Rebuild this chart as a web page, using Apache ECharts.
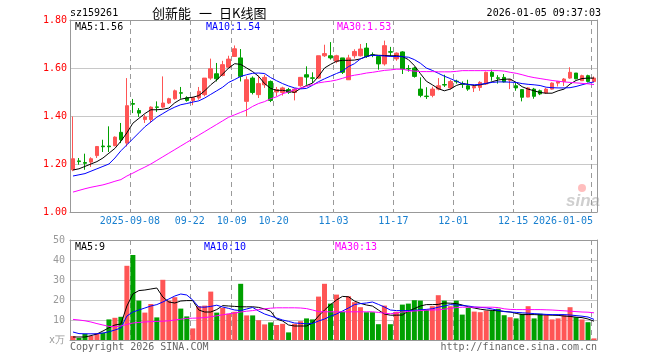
<!DOCTYPE html>
<html><head><meta charset="utf-8">
<script src="https://cdn.jsdelivr.net/npm/echarts@6/dist/echarts.min.js"></script>
<style>html,body{margin:0;padding:0;background:#fff}#c{width:660px;height:360px}</style>
</head><body><div id="c"></div>
<script>
const dates = [
'2025-08-25','2025-08-26','2025-08-27','2025-08-28','2025-08-29',
'2025-09-01','2025-09-02','2025-09-03','2025-09-04','2025-09-05',
'2025-09-08','2025-09-09','2025-09-10','2025-09-11','2025-09-12',
'2025-09-15','2025-09-16','2025-09-17','2025-09-18','2025-09-19',
'2025-09-22','2025-09-23','2025-09-24','2025-09-25','2025-09-26',
'2025-09-29','2025-09-30','2025-10-09','2025-10-10',
'2025-10-13','2025-10-14','2025-10-15','2025-10-16','2025-10-17',
'2025-10-20','2025-10-21','2025-10-22','2025-10-23','2025-10-24',
'2025-10-27','2025-10-28','2025-10-29','2025-10-30','2025-10-31',
'2025-11-03','2025-11-04','2025-11-05','2025-11-06','2025-11-07',
'2025-11-10','2025-11-11','2025-11-12','2025-11-13','2025-11-14',
'2025-11-17','2025-11-18','2025-11-19','2025-11-20','2025-11-21',
'2025-11-24','2025-11-25','2025-11-26','2025-11-27','2025-11-28',
'2025-12-01','2025-12-02','2025-12-03','2025-12-04','2025-12-05',
'2025-12-08','2025-12-09','2025-12-10','2025-12-11','2025-12-12',
'2025-12-15','2025-12-16','2025-12-17','2025-12-18','2025-12-19',
'2025-12-22','2025-12-23','2025-12-24','2025-12-25','2025-12-26',
'2025-12-29','2025-12-30','2025-12-31','2026-01-05'];

const opens = [1.176,1.213,1.206,1.208,1.235,1.275,1.275,1.276,1.332,1.287,
1.452,1.423,1.385,1.385,1.438,1.437,1.454,1.472,1.497,1.476,
1.465,1.475,1.489,1.558,1.576,1.569,1.603,1.648,1.642,1.461,
1.558,1.489,1.530,1.544,1.500,1.498,1.510,1.498,1.526,1.572,
1.559,1.558,1.651,1.651,1.628,1.642,1.551,1.651,1.651,1.683,
1.655,1.648,1.617,1.668,1.638,1.667,1.598,1.600,1.512,1.483,
1.486,1.512,1.531,1.517,1.545,1.534,1.526,1.517,1.519,1.533,
1.582,1.559,1.561,1.549,1.526,1.510,1.479,1.512,1.505,1.496,
1.512,1.537,1.544,1.558,1.579,1.547,1.568,1.544];
const closes = [1.222,1.210,1.203,1.222,1.273,1.272,1.272,1.312,1.301,1.443,
1.449,1.412,1.396,1.437,1.436,1.454,1.472,1.505,1.495,1.465,
1.476,1.503,1.558,1.597,1.555,1.614,1.637,1.680,1.565,1.551,
1.498,1.535,1.561,1.465,1.510,1.517,1.498,1.512,1.561,1.562,
1.557,1.651,1.660,1.642,1.651,1.582,1.642,1.669,1.679,1.648,
1.653,1.617,1.693,1.666,1.662,1.596,1.596,1.565,1.486,1.481,
1.512,1.526,1.529,1.544,1.543,1.532,1.512,1.523,1.540,1.582,
1.565,1.557,1.542,1.551,1.517,1.478,1.517,1.482,1.492,1.512,
1.537,1.544,1.554,1.582,1.555,1.568,1.544,1.558];
const lows = [1.170,1.197,1.176,1.188,1.225,1.250,1.250,1.274,1.287,1.273,
1.412,1.396,1.371,1.372,1.417,1.433,1.450,1.468,1.472,1.460,
1.445,1.468,1.482,1.551,1.544,1.565,1.600,1.646,1.544,1.398,
1.490,1.475,1.517,1.458,1.482,1.485,1.492,1.465,1.522,1.530,
1.537,1.555,1.646,1.635,1.620,1.575,1.551,1.640,1.648,1.642,
1.645,1.593,1.610,1.648,1.630,1.575,1.585,1.560,1.478,1.471,
1.478,1.507,1.521,1.510,1.535,1.517,1.505,1.500,1.505,1.530,
1.547,1.535,1.540,1.512,1.505,1.461,1.478,1.472,1.487,1.492,
1.510,1.523,1.525,1.555,1.553,1.546,1.540,1.542];
const highs = [1.398,1.225,1.243,1.228,1.275,1.301,1.357,1.315,1.371,1.558,
1.471,1.433,1.405,1.440,1.461,1.565,1.476,1.510,1.521,1.482,
1.480,1.521,1.558,1.639,1.621,1.630,1.651,1.694,1.679,1.565,
1.565,1.568,1.572,1.548,1.521,1.522,1.517,1.515,1.561,1.607,
1.582,1.651,1.697,1.708,1.655,1.642,1.655,1.678,1.700,1.704,
1.665,1.650,1.714,1.688,1.665,1.670,1.612,1.605,1.561,1.520,
1.522,1.558,1.572,1.551,1.551,1.544,1.551,1.530,1.545,1.585,
1.593,1.570,1.575,1.553,1.537,1.512,1.520,1.517,1.510,1.517,
1.540,1.546,1.558,1.603,1.579,1.572,1.572,1.565];

const ma5 = [1.175,1.180,1.190,1.200,1.210,1.225,1.245,1.265,1.295,1.330,
1.370,1.390,1.410,1.426,1.426,1.428,1.433,1.455,1.470,1.475,
1.478,1.485,1.505,1.530,1.550,1.575,1.600,1.618,1.615,1.600,
1.585,1.565,1.535,1.515,1.507,1.507,1.503,1.498,1.515,1.527,
1.537,1.565,1.600,1.615,1.628,1.632,1.632,1.633,1.638,1.648,
1.655,1.653,1.652,1.651,1.651,1.648,1.635,1.610,1.577,1.545,
1.530,1.514,1.505,1.512,1.527,1.535,1.532,1.527,1.530,1.535,
1.543,1.550,1.553,1.554,1.540,1.522,1.512,1.505,1.498,1.495,
1.495,1.505,1.512,1.533,1.548,1.556,1.558,1.558];
const ma10 = [1.150,1.155,1.160,1.170,1.180,1.190,1.200,1.225,1.255,1.280,
1.305,1.330,1.355,1.375,1.395,1.410,1.425,1.437,1.447,1.452,
1.458,1.463,1.475,1.490,1.505,1.520,1.540,1.552,1.565,1.572,
1.578,1.579,1.577,1.560,1.547,1.535,1.525,1.517,1.513,1.515,
1.528,1.543,1.555,1.566,1.577,1.587,1.606,1.618,1.638,1.648,
1.653,1.652,1.650,1.648,1.648,1.647,1.645,1.635,1.620,1.600,
1.590,1.578,1.566,1.556,1.545,1.535,1.531,1.530,1.532,1.536,
1.540,1.542,1.542,1.541,1.540,1.535,1.532,1.530,1.527,1.520,
1.518,1.517,1.517,1.518,1.523,1.530,1.537,1.542];
const ma30 = [1.083,1.090,1.097,1.103,1.108,1.113,1.120,1.128,1.135,1.150,
1.162,1.175,1.187,1.200,1.215,1.230,1.245,1.260,1.275,1.290,
1.305,1.320,1.335,1.350,1.365,1.380,1.395,1.405,1.415,1.425,
1.440,1.452,1.460,1.472,1.480,1.493,1.500,1.510,1.517,1.523,
1.530,1.538,1.542,1.545,1.550,1.557,1.565,1.570,1.574,1.579,
1.582,1.586,1.590,1.592,1.595,1.595,1.590,1.587,1.585,1.585,
1.585,1.584,1.584,1.584,1.586,1.589,1.589,1.589,1.589,1.589,
1.589,1.589,1.587,1.582,1.578,1.572,1.565,1.560,1.556,1.552,
1.548,1.545,1.542,1.540,1.538,1.536,1.534,1.531];

const volumes = [2.0,1.0,3.1,2.0,3.3,3.6,10.3,11.1,11.6,37.1,
42.5,19.7,13.7,18.0,11.3,30.1,19.7,21.4,15.7,11.8,
5.8,16.9,17.2,24.2,13.7,16.1,13.1,14.1,28.1,12.3,
12.3,9.9,7.8,8.8,7.5,8.1,3.8,8.1,9.4,10.8,
10.3,21.7,28.1,18.2,22.7,14.1,21.9,18.9,16.4,13.9,
13.9,7.9,17.2,7.9,14.1,17.7,18.2,19.9,19.7,15.2,
16.9,22.4,19.7,16.9,19.7,12.7,16.1,14.2,13.9,14.7,
14.7,15.6,12.4,11.4,10.8,13.1,16.9,10.8,13.1,12.4,
10.3,10.8,12.4,16.4,11.4,10.3,8.9,0.8];
const vma5 = [1.5,1.5,1.5,2.2,3.0,4.5,6.1,7.5,8.0,17.0,
23.0,24.7,25.0,25.5,26.0,21.5,19.0,18.5,19.5,19.7,
19.7,15.0,14.0,14.0,15.2,17.2,17.0,16.8,16.6,16.6,
16.6,16.3,15.5,14.4,10.5,9.5,7.5,7.0,7.0,7.0,
8.5,12.0,15.0,17.7,20.0,21.8,21.6,19.5,18.3,17.5,
17.0,15.0,13.0,12.4,12.4,12.5,14.5,15.7,17.0,17.7,
17.7,17.8,18.5,18.4,18.2,17.5,16.6,16.0,15.4,15.0,
14.8,14.6,14.3,14.0,13.3,12.7,12.7,12.7,12.6,12.5,
12.4,12.3,12.0,11.8,11.4,11.2,10.5,9.4];
const vma10 = [4.0,3.2,3.1,3.1,3.1,3.5,4.1,5.0,6.0,12.0,
14.0,15.0,16.0,17.0,17.7,19.0,20.5,22.0,23.0,22.5,
20.0,16.5,16.4,16.8,17.4,16.5,15.8,15.0,14.7,15.5,
16.3,14.5,13.0,12.0,11.0,10.0,9.3,8.5,8.3,8.1,
8.3,9.5,10.5,11.9,13.0,14.5,16.0,17.7,18.2,18.5,
19.0,17.8,16.5,15.0,14.7,14.7,14.7,14.8,15.1,15.3,
15.6,16.4,17.0,17.7,17.5,17.2,17.0,16.5,16.3,16.1,
15.5,14.8,14.2,14.0,13.8,13.6,13.4,13.2,13.0,12.8,
12.7,12.7,12.7,12.5,12.2,11.9,11.5,10.3];
const vma30 = [10.3,10.0,9.6,9.0,8.2,7.5,6.8,6.6,7.0,7.8,
8.5,8.8,9.0,9.2,9.3,9.4,9.6,10.0,10.4,10.8,
10.9,11.0,11.2,11.6,12.1,12.6,13.1,13.5,14.0,14.4,
14.7,15.2,15.6,15.9,16.1,16.1,16.1,16.1,16.0,15.7,
15.0,14.2,14.1,14.1,14.1,14.1,14.1,14.1,14.1,14.1,
14.1,13.8,13.4,13.1,13.5,14.0,14.3,14.5,14.7,14.9,
15.0,15.1,15.4,15.8,16.2,16.4,16.4,16.4,16.4,16.4,
16.4,16.2,15.6,15.3,15.2,15.2,15.2,15.2,15.2,15.1,
15.0,14.8,14.6,14.4,14.2,14.0,13.9,13.6];

const priceMin = 1.0, priceMax = 1.8, priceStep = 0.2;
const volMin = 0, volMax = 50, volStep = 10;
const markIdx = [10,20,27,34,44,54,64,74,87];
const fullLabelIdx = [10,87];
const code = 'sz159261';
const nameParts = ['创新能','一','日K线图'];
const stamp = '2026-01-05 09:37:03';
const priceLegend = ['MA5:1.56','MA10:1.54','MA30:1.53'];
const volLegend = ['MA5:9','MA10:10','MA30:13'];
const copyright = 'Copyright 2026 SINA.COM';
const siteUrl = 'http://finance.sina.com.cn';

const UP = '#ff5555', DOWN = '#00a000';
const MONO = '"DejaVu Sans Mono", "Liberation Mono", monospace';

const candle = dates.map((d,i)=>[opens[i],closes[i],lows[i],highs[i]]);
const volData = volumes.map((v,i)=>({value:v,itemStyle:{color: closes[i]>=opens[i]?UP:DOWN}}));
const isMark = (i)=>markIdx.indexOf(i)>=0;

const chart = echarts.init(document.getElementById('c'), null, {renderer:'canvas'});
const lineS = (data,color,xi,yi)=>({type:'line',data,xAxisIndex:xi,yAxisIndex:yi,symbol:'none',showSymbol:false,
  lineStyle:{width:1,color},itemStyle:{color},z:5,silent:true,animation:false});

const xBase = (gi, labels)=>({
  type:'category', gridIndex:gi, data:dates, boundaryGap:true,
  axisLine:{show:true, onZero:false, lineStyle:{color:'#999',width:1}},
  axisTick:{show:labels, inside:true, length:3, interval:(i)=>isMark(i), lineStyle:{color:'#999'}},
  splitLine:{show:true, interval:(i)=>isMark(i), lineStyle:{color:'#9a9a9a', type:[5,4], width:1}},
  axisLabel:{show:labels, hideOverlap:false, margin:4, interval:(i)=>isMark(i),
    color:'#1a80d0', fontFamily:MONO, fontSize:10,
    formatter:(v,i)=>{
      if(i===87) return '{b|'+v+'}';
      return '{a|'+(fullLabelIdx.indexOf(i)>=0?v:v.slice(5))+'}';
    },
    rich:{a:{padding:[0,6,0,0],color:'#1a80d0',fontFamily:MONO,fontSize:10},
          b:{padding:[0,62,0,0],color:'#1a80d0',fontFamily:MONO,fontSize:10}}}
});
const xTop = (gi)=>({type:'category', gridIndex:gi, data:dates, position:'top', boundaryGap:true,
  axisLine:{show:true,onZero:false,lineStyle:{color:'#999',width:1}}, axisTick:{show:false}, axisLabel:{show:false}, splitLine:{show:false}});
const yRight = (gi,min,max,step)=>({type:'value', gridIndex:gi, position:'right', min, max, interval:step,
  axisLine:{show:true,onZero:false,lineStyle:{color:'#999',width:1}}, axisTick:{show:false}, axisLabel:{show:false}, splitLine:{show:false}});

const txt = (x,y,text,fill,opts)=>Object.assign({type:'text',x,y,silent:true,
  style:Object.assign({text,fill,font:'10px '+MONO,textVerticalAlign:'middle'},opts||{})});

chart.setOption({
  animation:false,
  backgroundColor:'#fff',
  grid:[
    {left:70,right:63,top:20,height:192,show:false,outerBoundsMode:'none',containLabel:false},
    {left:70,right:63,top:240,height:100,show:false,outerBoundsMode:'none',containLabel:false}
  ],
  xAxis:[xBase(0,true), xBase(1,false), xTop(0), xTop(1)],
  yAxis:[
    {type:'value',gridIndex:0,min:priceMin,max:priceMax,interval:priceStep,
     axisLine:{show:true,onZero:false,lineStyle:{color:'#999',width:1}},axisTick:{show:false},
     axisLabel:{color:'#ff0000',fontFamily:MONO,fontSize:10,margin:3,formatter:(v)=>v.toFixed(2)},
     splitLine:{show:true,lineStyle:{color:'#c8c8c8',type:'solid',width:1}}},
    {type:'value',gridIndex:1,min:volMin,max:volMax,interval:volStep,
     axisLine:{show:true,onZero:false,lineStyle:{color:'#999',width:1}},axisTick:{show:false},
     axisLabel:{color:'#999',fontFamily:MONO,fontSize:10,margin:5,formatter:(v)=>v===0?'x万':String(v)},
     splitLine:{show:true,lineStyle:{color:'#c8c8c8',type:'solid',width:1}}},
    yRight(0,priceMin,priceMax,priceStep), yRight(1,volMin,volMax,volStep)
  ],
  series:[
    {type:'candlestick',xAxisIndex:0,yAxisIndex:0,data:candle,barWidth:4,
     itemStyle:{color:UP,color0:DOWN,borderColor:UP,borderColor0:DOWN,borderWidth:1},z:3,silent:true},
    lineS(ma5,'#000000',0,0), lineS(ma10,'#0000ff',0,0), lineS(ma30,'#ff00ff',0,0),
    {type:'bar',xAxisIndex:1,yAxisIndex:1,data:volData,barWidth:5,z:3,silent:true},
    lineS(vma5,'#000000',1,1), lineS(vma10,'#0000ff',1,1), lineS(vma30,'#ff00ff',1,1)
  ],
  graphic:[
    txt(70,13,code,'#000'),
    txt(152,13,nameParts[0],'#000',{font:'13px "Noto Sans CJK SC"'}),
    txt(199,13,nameParts[1],'#000',{font:'13px "Noto Sans CJK SC"'}),
    txt(219,13,nameParts[2],'#000',{font:'13px "Noto Sans CJK SC"'}),
    txt(601,13,stamp,'#000',{textAlign:'right'}),
    txt(75,27,priceLegend[0],'#000'),
    txt(206,27,priceLegend[1],'#0000ff'),
    txt(337,27,priceLegend[2],'#ff00ff'),
    txt(75,247,volLegend[0],'#000'),
    txt(204,247,volLegend[1],'#0000ff'),
    txt(335,247,volLegend[2],'#ff00ff'),
    txt(70,347,copyright,'#666'),
    txt(597,347,siteUrl,'#666',{textAlign:'right'}),
    {type:'circle',shape:{cx:582,cy:188,r:4},style:{fill:'rgba(255,110,110,0.45)'},silent:true},
    {type:'text',x:566,y:201,silent:true,style:{text:'sina',fill:'#cfcfcf',font:'italic bold 17px "Liberation Sans"',textVerticalAlign:'middle'}}
  ]
});
</script></body></html>
